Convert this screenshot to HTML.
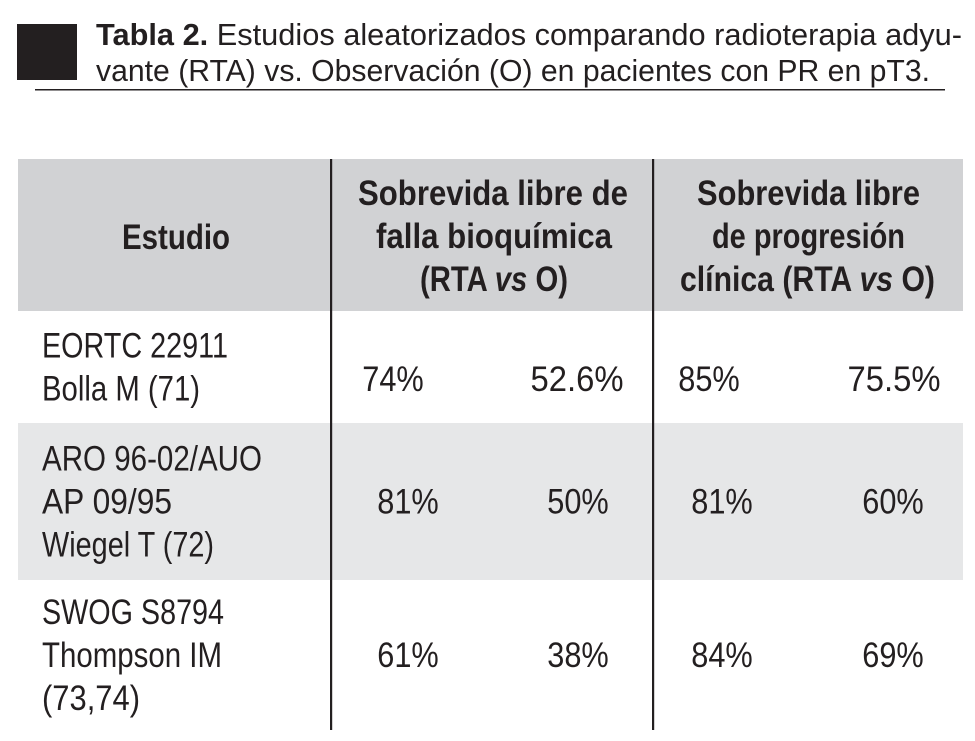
<!DOCTYPE html>
<html><head><meta charset="utf-8"><style>
html,body{margin:0;padding:0;background:#fff;}
svg{display:block;}
text{font-family:"Liberation Sans Narrow","Liberation Sans",sans-serif;fill:#231f20;}
.b{font-weight:bold;}
.t{font-family:"Liberation Sans",sans-serif;}
</style></head><body>
<svg id="tbl" width="975" height="741" viewBox="0 0 975 741">
<rect x="17" y="24" width="60" height="56" fill="#231f20"/>
<text class="t" x="96" y="45" font-size="31" textLength="866" lengthAdjust="spacingAndGlyphs"><tspan font-weight="bold">Tabla 2.</tspan> Estudios aleatorizados comparando radioterapia adyu-</text>
<text class="t" x="96" y="81" font-size="31" textLength="834" lengthAdjust="spacingAndGlyphs">vante (RTA) vs. Observación (O) en pacientes con PR en pT3.</text>
<rect x="35" y="89" width="910" height="1.5" fill="#231f20"/>
<rect x="18" y="159" width="945" height="152" fill="#d1d2d4"/>
<rect x="18" y="423" width="945" height="157" fill="#e6e7e8"/>
<rect x="330" y="159" width="2.2" height="571" fill="#231f20"/>
<rect x="652" y="159" width="2.2" height="571" fill="#231f20"/>
<g class="b" font-size="35">
<text x="122" y="249" textLength="108" lengthAdjust="spacingAndGlyphs">Estudio</text>
<text x="358" y="205" textLength="270" lengthAdjust="spacingAndGlyphs">Sobrevida libre de</text>
<text x="376" y="248" textLength="236" lengthAdjust="spacingAndGlyphs">falla bioquímica</text>
<text x="420" y="291" textLength="148" lengthAdjust="spacingAndGlyphs">(RTA <tspan font-style="italic">vs</tspan> O)</text>
<text x="697" y="205" textLength="223" lengthAdjust="spacingAndGlyphs">Sobrevida libre</text>
<text x="712" y="248" textLength="193" lengthAdjust="spacingAndGlyphs">de progresión</text>
<text x="680" y="291" textLength="255" lengthAdjust="spacingAndGlyphs">clínica (RTA <tspan font-style="italic">vs</tspan> O)</text>
</g>
<g id="body" font-size="35"></g>
</svg>
<script>
const studyLines = [["EORTC 22911","Bolla M (71)"],["ARO 96-02/AUO","AP 09/95","Wiegel T (72)"],["SWOG S8794","Thompson IM","(73,74)"]];
const bioRTA = ["74%","81%","61%"];
const bioO = ["52.6%","50%","38%"];
const clinRTA = ["85%","81%","84%"];
const clinO = ["75.5%","60%","69%"];
const ns='http://www.w3.org/2000/svg';
const g=document.getElementById('body');
const rowTop=[311,423,580], rowH=[112,157,150];
const lineW={"EORTC 22911":186,"Bolla M (71)":158,"ARO 96-02/AUO":220,"AP 09/95":130,"Wiegel T (72)":172,"SWOG S8794":182,"Thompson IM":180,"(73,74)":98};
function txt(s,x,y,anchor,w){const t=document.createElementNS(ns,'text');t.textContent=s;t.setAttribute('x',x);t.setAttribute('y',y);if(anchor)t.setAttribute('text-anchor',anchor);if(w){t.setAttribute('textLength',w);t.setAttribute('lengthAdjust','spacingAndGlyphs');}g.appendChild(t);return t;}
function valW(s){return s.length>3?s.length*18.6:s.length*20.5;}
studyLines.forEach((lines,i)=>{
  const mid=rowTop[i]+rowH[i]/2;
  const start=mid-(lines.length-1)*43/2+12;
  lines.forEach((s,j)=>{
    const t=txt(s,42,start+j*43,null,lineW[s]);
    
    
  });
  const y=mid+12+(i===0?12:0);
  const off=i===0?[-15,-1,-13,1]:[0,0,0,0];
  [[bioRTA,408],[bioO,578],[clinRTA,722],[clinO,893]].forEach((c,k)=>{
    const s=c[0][i];
    const t=txt(s,c[1]+off[k],y,'middle',valW(s));
    
    
  });
});
</script>
</body></html>
